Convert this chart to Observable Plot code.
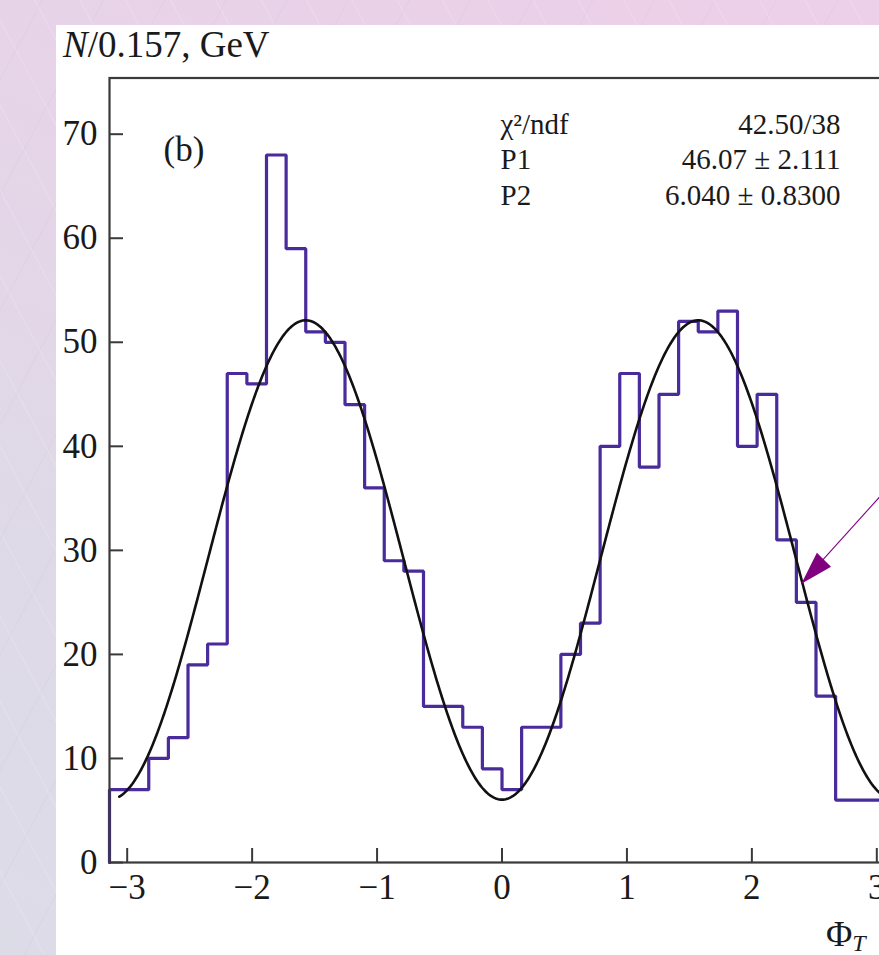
<!DOCTYPE html>
<html><head><meta charset="utf-8">
<script src="https://cdn.jsdelivr.net/npm/d3@7"></script>
<script src="https://cdn.jsdelivr.net/npm/@observablehq/plot@0.6"></script>
<style>
html,body{margin:0;padding:0;width:879px;height:955px;overflow:hidden;}
body{position:relative;
  background:
    repeating-linear-gradient(62deg, rgba(255,255,255,0) 0px, rgba(255,255,255,0) 38px, rgba(255,255,255,0.18) 39px, rgba(255,255,255,0) 40px),
    repeating-linear-gradient(-62deg, rgba(180,160,190,0) 0px, rgba(180,160,190,0) 52px, rgba(180,160,190,0.10) 53px, rgba(180,160,190,0) 54px),
    linear-gradient(205deg, #EDCFE8 0%, #E6D4E8 35%, #DFD9E7 65%, #DCDCE7 100%);}
#panel{position:absolute;left:56px;top:25px;width:900px;height:1000px;background:#fff;}
#title{position:absolute;left:63px;top:26px;font-family:"Liberation Serif",serif;font-size:37px;line-height:37px;color:#1a1a1a;white-space:nowrap;}
#chart{position:absolute;left:0;top:0;width:1000px;height:955px;}
#xlabel{position:absolute;left:826px;top:916px;font-family:"Liberation Serif",serif;font-size:36px;line-height:36px;color:#1a1a1a;white-space:nowrap;}
#xlabel sub{font-size:24px;font-style:italic;vertical-align:-5px;line-height:0;}
</style></head><body>
<div id="panel"></div>
<div id="title"><i>N</i>/0.157, GeV</div>
<div id="chart"></div>
<div id="xlabel">Φ<sub>T</sub></div>
<script>
// ---- data ----
const binCounts = [7, 7, 10, 12, 19, 21, 47, 46, 68, 59,
                   51, 50, 44, 36, 29, 28, 15, 15, 13, 9,
                   7, 13, 13, 20, 23, 40, 47, 38, 45, 52,
                   51, 53, 40, 45, 31, 25, 16, 6, 6, 6];
const phiRange = [-Math.PI, Math.PI];
const xTicks = [-3, -2, -1, 0, 1, 2, 3];
const yTicks = [0, 10, 20, 30, 40, 50, 60, 70];
const yMax = 75.4;
const fitP1 = 46.07;   // P1 * sin^2(phi) + P2
const fitP2 = 6.040;
const statLabels = ["χ²/ndf", "P1", "P2"];
const statValues = ["42.50/38", "46.07 ± 2.111", "6.040 ± 0.8300"];
const panelTag = "(b)";
const arrowFrom = {x: 3.14, y: 36.7};
const arrowTip = {x: 2.396, y: 26.8};

// ---- derived tables ----
const nBins = binCounts.length;
const binWidth = (phiRange[1] - phiRange[0]) / nBins;
const histPts = [{x: phiRange[0], y: 0}]
  .concat(binCounts.map((c, i) => ({x: phiRange[0] + i * binWidth, y: c})))
  .concat([{x: phiRange[1], y: binCounts[nBins - 1]}, {x: phiRange[1], y: 0}]);
const fitStart = phiRange[0] + binWidth / 2, fitEnd = phiRange[1] - binWidth / 2;
const fitPts = d3.range(0, 601).map(i => {
  const p = fitStart + (fitEnd - fitStart) * i / 600;
  return {x: p, y: fitP1 * Math.sin(p) ** 2 + fitP2};
});
const fmt = d => d < 0 ? "\u2212" + (-d) : String(d);

// filled arrow head, tip at origin, pointing down-left
const headSymbol = {draw(ctx) { ctx.moveTo(0, 0); ctx.lineTo(15.5, -31); ctx.lineTo(29.7, -17); ctx.closePath(); }};

const textColor = "#1a1a1a";
const plot = Plot.plot({
  width: 1000, height: 955,
  marginLeft: 109, marginRight: 106, marginTop: 77.5, marginBottom: 93,
  style: {background: "transparent", fontFamily: "'Liberation Serif', serif", fontSize: "35px", color: textColor, overflow: "visible", maxWidth: "none"},
  x: {domain: phiRange},
  y: {domain: [0, yMax]},
  marks: [
    Plot.line(histPts, {x: "x", y: "y", curve: "step-after", stroke: "#4A2B9B", strokeWidth: 3.2, strokeLinejoin: "miter"}),
    Plot.line(fitPts, {x: "x", y: "y", stroke: "#111", strokeWidth: 2.6}),
    Plot.link([{a: arrowFrom, b: arrowTip}], {x1: d => d.a.x, y1: d => d.a.y, x2: d => d.b.x, y2: d => d.b.y, stroke: "#800080", strokeWidth: 1.1}),
    Plot.dot([arrowTip], {x: "x", y: "y", symbol: headSymbol, fill: "#800080", stroke: "none", r: 5}),
    Plot.frame({stroke: "#3a3a3a", strokeWidth: 2.2}),
    Plot.axisX(xTicks, {anchor: "bottom", tickSize: -14, tickPadding: 26, tickFormat: fmt, strokeWidth: 2, stroke: "#3a3a3a", fill: textColor, fontSize: 35, label: null}),
    Plot.axisY(yTicks, {anchor: "left", tickSize: -14, tickPadding: 26, tickFormat: fmt, strokeWidth: 2, stroke: "#3a3a3a", fill: textColor, fontSize: 35, label: null}),
    Plot.text([statLabels.join("\n")], {frameAnchor: "top-left", dx: 391, dy: 31, lineAnchor: "top", textAnchor: "start", lineHeight: 1.22, fontSize: 29, fill: textColor}),
    Plot.text([statValues.join("\n")], {frameAnchor: "top-right", dx: -54, dy: 31, lineAnchor: "top", textAnchor: "end", lineHeight: 1.22, fontSize: 29, fill: textColor}),
    Plot.text([panelTag], {frameAnchor: "top-left", dx: 54, dy: 58, lineAnchor: "top", textAnchor: "start", fontSize: 35, fill: textColor})
  ]
});
document.getElementById("chart").appendChild(plot);
</script>
</body></html>
